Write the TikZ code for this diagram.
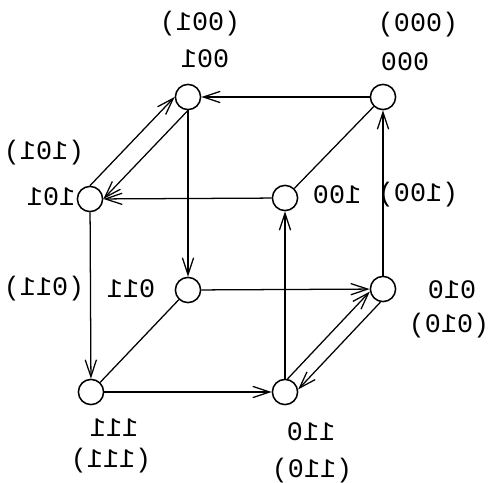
\documentclass[tikz,border=0pt]{standalone}
\usepackage{fontspec}
\newfontfamily\codefont{Liberation Mono}
\usetikzlibrary{arrows.meta}
\newcommand{\mir}[1]{\scalebox{-1}[1]{#1}}

\begin{document}
\begin{tikzpicture}[x=0.25mm,y=-0.25mm,
	vertex/.style={circle,draw,line width=1.1pt,minimum size=6.3mm,inner sep=0pt},
	code/.style={font=\codefont\fontsize{19}{21}\selectfont,inner sep=0pt},
	link/.style={line width=0.9pt},
	edge/.style={line width=0.9pt,-{Straight Barb[length=12pt,width=8pt,line width=0.9pt]}}]
	\useasboundingbox (0,0) rectangle (488,482);
	% cube vertices
	\node [vertex] (v001) at (188,97) {};
	\node [vertex] (v000) at (383,97) {};
	\node [vertex] (v101) at (90,199) {};
	\node [vertex] (v100) at (285,198) {};
	\node [vertex] (v011) at (188,290) {};
	\node [vertex] (v010) at (383,289) {};
	\node [vertex] (v111) at (91,392) {};
	\node [vertex] (v110) at (285,392) {};
	% labels (printed mirrored)
	\node [code] (t001) at (205,59) {\mir{001}};\node [code] (p001) at (200,24) {\mir{(001)}};
	\node [code] (t000) at (405,62) {\mir{000}};\node [code] (p000) at (418,25) {\mir{(000)}};
	\node [code] (t101) at (51,197) {\mir{101}};\node [code] (p101) at (44,153) {\mir{(101)}};
	\node [code] (t100) at (337,195) {\mir{100}};\node [code] (p100) at (418,195) {\mir{(100)}};
	\node [code] (t011) at (131,289) {\mir{011}};\node [code] (p011) at (44,289) {\mir{(011)}};
	\node [code] (t010) at (452,290) {\mir{010}};\node [code] (p010) at (449,326) {\mir{(010)}};
	\node [code] (t111) at (114,428) {\mir{111}};\node [code] (p111) at (111,461) {\mir{(111)}};
	\node [code] (t110) at (311,432) {\mir{110}};\node [code] (p110) at (312,471) {\mir{(110)}};
	% edges
	\draw [edge] (v000) -- (v001);
	\draw [edge] (v100) -- (v101);
	\draw [edge] (v011) -- (v010);
	\draw [edge] (v111) -- (v110);
	\draw [edge] (v001) -- (v011);
	\draw [edge] (v101) -- (v111);
	\draw [edge] (v110) -- (v100);
	\draw [edge] (v010) -- (v000);
	\draw [link] (v000) -- (v100);
	\draw [link] (v011) -- (v111);
	\draw [edge] (v101.90) -- (v001.180);
	\draw [edge] (v001.270) -- (v101.0);
	\draw [edge] (v110.79) -- (v010.191);
	\draw [edge] (v010.259) -- (v110.11);
\end{tikzpicture}
\end{document}
